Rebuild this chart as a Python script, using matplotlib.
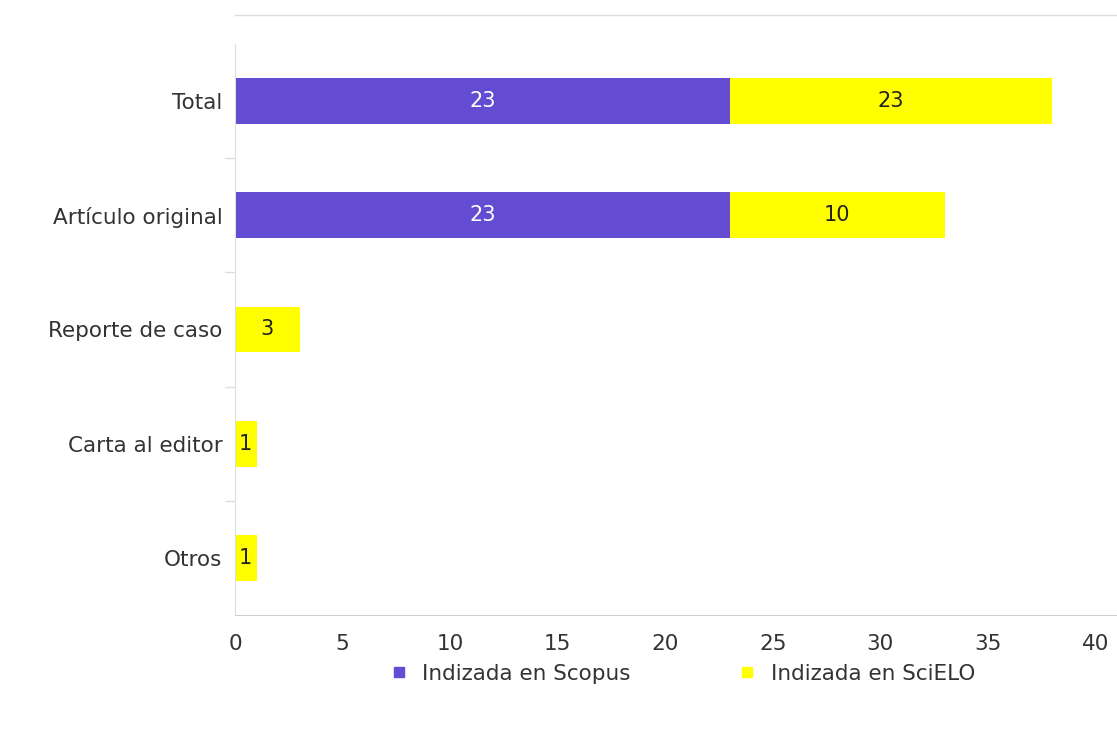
import matplotlib.pyplot as plt
from matplotlib.lines import Line2D
import numpy as np

plt.rcParams["font.family"] = ["DejaVu Sans"]

categories = ["Total", "Artículo original", "Reporte de caso", "Carta al editor", "Otros"]
scopus = [23, 23, 0, 0, 0]
scielo = [15, 10, 3, 1, 1]
# labels as printed in the source chart
scopus_labels = ["23", "23", "", "", ""]
scielo_labels = ["23", "10", "3", "1", "1"]
x_ticks = [0, 5, 10, 15, 20, 25, 30, 35, 40]

purple = "#634cd2"
yellow = "#ffff00"
fs = 15.5

fig = plt.figure(figsize=(11.17, 7.31), dpi=100)
ax = fig.add_axes([0.2104, 0.1587, 0.7896, 0.7811])

y = np.arange(len(categories))
ax.barh(y, scopus, height=0.4, color=purple, label="Indizada en Scopus")
ax.barh(y, scielo, left=scopus, height=0.4, color=yellow, label="Indizada en SciELO")

for i in range(len(categories)):
    if scopus[i] > 0:
        ax.text(scopus[i] / 2, y[i], scopus_labels[i], ha="center", va="center",
                color="white", fontsize=15)
    if scielo[i] > 0:
        ax.text(scopus[i] + scielo[i] / 2, y[i], scielo_labels[i], ha="center",
                va="center", color="#222222", fontsize=15)

ax.set_xlim(0, 41)
ax.set_ylim(len(categories) - 0.5, -0.5)
ax.set_yticks(y)
ax.set_yticklabels(categories)
ax.set_yticks(np.arange(0.5, len(categories) - 1, 1.0), minor=True)
ax.tick_params(axis="y", which="major", length=0, pad=9, labelsize=fs, labelcolor="#333333")
ax.tick_params(axis="y", which="minor", length=7, color="#dddddd", width=1)
ax.set_xticks(x_ticks)
ax.tick_params(axis="x", length=0, pad=14, labelsize=fs, labelcolor="#333333")

for side in ["top", "right"]:
    ax.spines[side].set_visible(False)
ax.spines["left"].set_color("#dddddd")
ax.spines["bottom"].set_color("#cccccc")

fig.add_artist(Line2D([0.2104, 1.0], [1 - 15 / 731, 1 - 15 / 731], color="#dddddd", lw=1))

handles = [
    Line2D([], [], marker="s", linestyle="none", markersize=6.5, color=purple),
    Line2D([], [], marker="s", linestyle="none", markersize=6.5, color=yellow),
]
fig.legend(handles, ["Indizada en Scopus", "Indizada en SciELO"], loc="center",
           bbox_to_anchor=(0.611, 1 - 674 / 731), ncol=2, frameon=False, fontsize=fs,
           handlelength=0.8, handletextpad=0.7, columnspacing=5, labelcolor="#333333")

fig.savefig("out.png", dpi=100)
